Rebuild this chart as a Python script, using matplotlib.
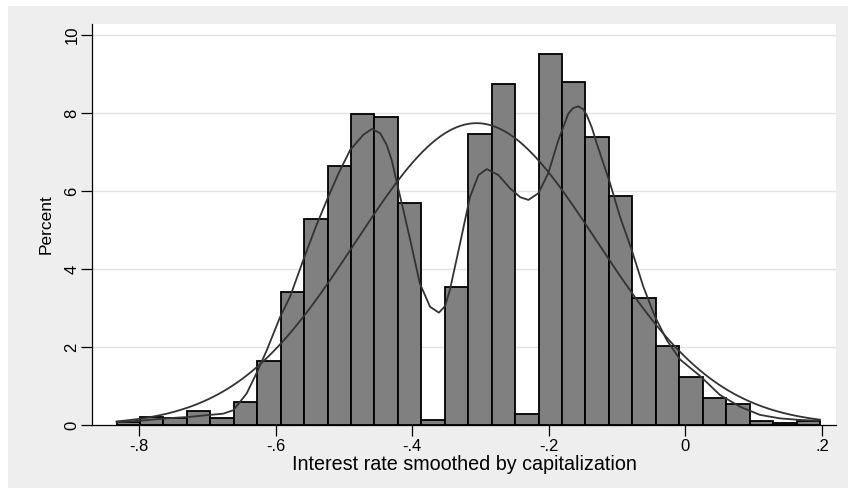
"""Histogram of the capitalization-smoothed interest rate with kernel and normal overlays."""

import numpy as np
import matplotlib
matplotlib.use("Agg")
import matplotlib.pyplot as plt
from matplotlib.patches import Rectangle

plt.rcParams["font.family"] = ["Liberation Sans", "DejaVu Sans"]

# Histogram: 30 equal-width bins, heights in percent of observations
BIN_START = -0.833
BIN_WIDTH = 0.03433
PERCENT = [0.08, 0.21, 0.17, 0.36, 0.17, 0.60, 1.64, 3.42, 5.29, 6.65,
           7.98, 7.89, 5.70, 0.13, 3.55, 7.45, 8.73, 0.27, 9.50, 8.80,
           7.38, 5.86, 3.25, 2.03, 1.24, 0.68, 0.54, 0.11, 0.05, 0.11]

# Kernel density, already scaled to percent per bin
KDE_X = [-0.833, -0.799, -0.760, -0.725, -0.696, -0.677, -0.662, -0.6425,
         -0.628, -0.613, -0.594, -0.579, -0.5596, -0.542, -0.525, -0.508,
         -0.491, -0.4717, -0.459, -0.447, -0.4375, -0.430, -0.423, -0.413,
         -0.403, -0.389, -0.374, -0.361, -0.352, -0.345, -0.330, -0.3155,
         -0.303, -0.291, -0.274, -0.257, -0.242, -0.230, -0.2155, -0.201,
         -0.186, -0.1716, -0.165, -0.157, -0.150, -0.1447, -0.137, -0.130,
         -0.1105, -0.0959, -0.0788, -0.0618, -0.0447, -0.0275, -0.008,
         0.0212, 0.0505, 0.0798, 0.109, 0.138, 0.168, 0.1945]
KDE_Y = [0.07, 0.11, 0.17, 0.21, 0.26, 0.29, 0.38, 0.81,
         1.33, 1.92, 2.75, 3.29, 4.23, 5.05, 5.77, 6.45,
         7.05, 7.44, 7.59, 7.48, 7.18, 6.78, 6.24, 5.50,
         4.74, 3.63, 3.03, 2.88, 3.05, 3.46, 4.66, 5.85,
         6.41, 6.56, 6.41, 6.07, 5.84, 5.77, 5.94, 6.45,
         7.31, 7.98, 8.12, 8.17, 8.10, 7.95, 7.62, 7.22,
         6.20, 5.34, 4.49, 3.55, 2.78, 2.18, 1.68,
         1.26, 0.77, 0.47, 0.26, 0.17, 0.13, 0.11]

# Normal overlay parameters
NORM_MEAN = -0.306
NORM_SD = 0.177

X_TICKS = [-0.8, -0.6, -0.4, -0.2, 0.0, 0.2]
X_TICK_LABELS = ["-.8", "-.6", "-.4", "-.2", "0", ".2"]
Y_TICKS = [0, 2, 4, 6, 8, 10]

W, H = 848, 488
fig = plt.figure(figsize=(W / 100, H / 100), dpi=100)
fig.patch.set_facecolor("white")
# grey graph region, leaving a thin white margin at the top and left
fig.add_artist(Rectangle((8 / W, 0), 1, 1 - 6 / H, transform=fig.transFigure,
                         facecolor="#eeeeee", edgecolor="none", zorder=-10))

ax = fig.add_axes([92 / W, (H - 425) / H, (836 - 92) / W, (425 - 24) / H])
ax.set_facecolor("white")

edges = BIN_START + BIN_WIDTH * np.arange(len(PERCENT))
ax.bar(edges, PERCENT, width=BIN_WIDTH, align="edge", color="#808080",
       edgecolor="black", linewidth=1.3, zorder=2)

ax.plot(KDE_X, KDE_Y, color="#333333", linewidth=1.3, zorder=3)

xs = np.linspace(BIN_START, BIN_START + BIN_WIDTH * len(PERCENT), 300)
norm = BIN_WIDTH * 100 / (NORM_SD * np.sqrt(2 * np.pi)) * np.exp(-0.5 * ((xs - NORM_MEAN) / NORM_SD) ** 2)
ax.plot(xs, norm, color="#333333", linewidth=1.3, zorder=3)

ax.set_xlim(-0.869, 0.2204)
ax.set_ylim(0, 10.28)

ax.set_xticks(X_TICKS)
ax.set_xticklabels(X_TICK_LABELS)
ax.set_yticks(Y_TICKS)
ax.set_yticklabels([str(v) for v in Y_TICKS], rotation=90, va="center")
ax.tick_params(axis="both", length=8, width=0.9, labelsize=12, color="black")
ax.tick_params(axis="x", pad=2)
ax.tick_params(axis="y", pad=1)

for v in Y_TICKS[1:]:
    ax.axhline(v, color="#e4e4e4", linewidth=1.0, zorder=1)

for side in ("top", "right"):
    ax.spines[side].set_visible(False)
for side in ("left", "bottom"):
    ax.spines[side].set_linewidth(0.9)

ax.set_xlabel("Interest rate smoothed by capitalization", fontsize=14.2, labelpad=0.5)
ax.set_ylabel("Percent", fontsize=12.5, labelpad=8)

fig.savefig("out.png", dpi=100)
